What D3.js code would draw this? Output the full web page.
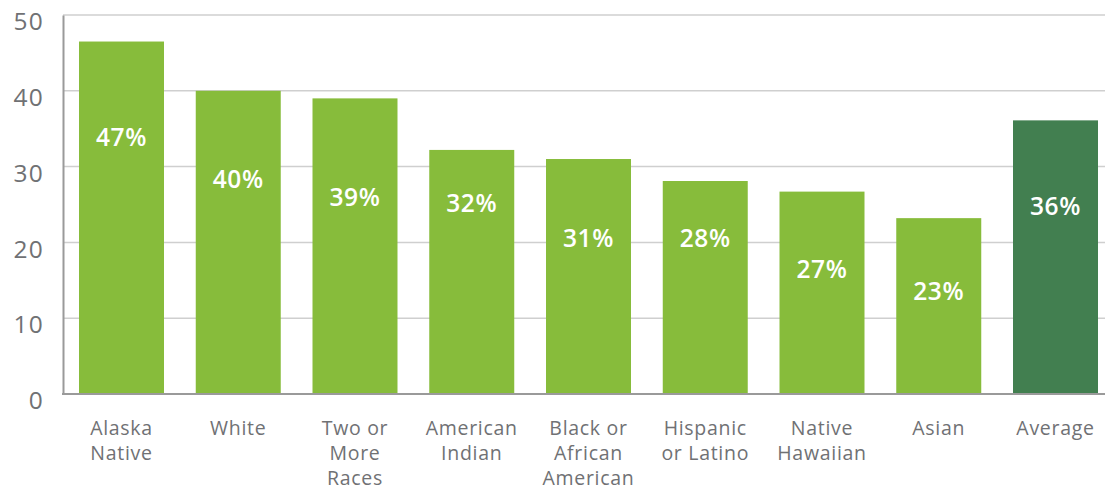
<!DOCTYPE html>
<html>
<head>
<meta charset="utf-8">
<script src="https://cdn.jsdelivr.net/npm/d3@7/dist/d3.min.js"></script>
<style>
  html, body { margin: 0; padding: 0; background: #fff; }
  svg { display: block; }
  text { font-family: "Open Sans", "Lato", sans-serif; }
</style>
</head>
<body>
<svg id="chart" width="1105" height="490"></svg>
<script>
// Share of each group, percent
const categories = [
  ["Alaska", "Native"],
  ["White"],
  ["Two or", "More", "Races"],
  ["American", "Indian"],
  ["Black or", "African", "American"],
  ["Hispanic", "or Latino"],
  ["Native", "Hawaiian"],
  ["Asian"],
  ["Average"]
];
const values = [46.5, 40, 39, 32.2, 31, 28.1, 26.7, 23.2, 36.1];
const highlight = [false, false, false, false, false, false, false, false, true];
const yTicks = [0, 10, 20, 30, 40, 50];

// Layout: where each value label's baseline sits below the bar top (px)
const labelDrop = [104, 97, 108, 62, 88, 66, 86, 82, 95];

const plotLeft = 63, plotTop = 15, plotBottom = 394, plotRight = 1105;

const svg = d3.select("#chart");

const y = d3.scaleLinear().domain([0, 50]).range([plotBottom, plotTop]);
const x = d3.scaleBand()
  .domain(d3.range(values.length))
  .range([79, 1098])
  .paddingInner(0.272)
  .paddingOuter(0);

// Horizontal gridlines
svg.append("g")
  .selectAll("line")
  .data(yTicks.filter(t => t > 0))
  .join("line")
  .attr("x1", plotLeft).attr("x2", plotRight)
  .attr("y1", d => y(d)).attr("y2", d => y(d))
  .attr("stroke", "#cfcfcf")
  .attr("stroke-width", 1.5);

// Bars
svg.append("g")
  .selectAll("rect")
  .data(values)
  .join("rect")
  .attr("x", (d, i) => x(i))
  .attr("width", x.bandwidth())
  .attr("y", d => y(d))
  .attr("height", d => y(0) - y(d))
  .attr("fill", (d, i) => highlight[i] ? "#427f50" : "#87bc3b");

// Value labels inside bars
svg.append("g")
  .selectAll("text")
  .data(values)
  .join("text")
  .attr("x", (d, i) => x(i) + x.bandwidth() / 2)
  .attr("y", (d, i) => y(d) + labelDrop[i])
  .attr("text-anchor", "middle")
  .attr("fill", "#fff")
  .attr("font-size", 24.5)
  .attr("font-weight", 600)
  .attr("letter-spacing", 0.6)
  .text(d => Math.round(d) + "%");

// Y axis
const yAxis = d3.axisLeft(y).tickValues(yTicks).tickSize(0).tickPadding(19);
const gy = svg.append("g").attr("transform", `translate(${plotLeft},0)`).call(yAxis);
gy.select(".domain").attr("stroke", "#9a9a9a").attr("stroke-width", 2);
gy.selectAll(".tick text")
  .attr("font-size", 24.5)
  .attr("fill", "#707174")
  .attr("letter-spacing", 1.2)
  .attr("dy", "0.6em")
  .attr("font-family", "'Open Sans', sans-serif");

// X baseline
svg.append("line")
  .attr("x1", plotLeft - 1).attr("x2", plotRight)
  .attr("y1", y(0)).attr("y2", y(0))
  .attr("stroke", "#9a9a9a")
  .attr("stroke-width", 2);

// Category labels
const cat = svg.append("g")
  .selectAll("text")
  .data(categories)
  .join("text")
  .attr("x", (d, i) => x(i) + x.bandwidth() / 2)
  .attr("y", 435)
  .attr("text-anchor", "middle")
  .attr("fill", "#707174")
  .attr("font-size", 19.5)
  .attr("letter-spacing", 0.7);
cat.selectAll("tspan")
  .data(d => d)
  .join("tspan")
  .attr("x", function() { return this.parentNode.getAttribute("x"); })
  .attr("dy", (d, i) => i === 0 ? 0 : 25)
  .text(d => d);
</script>
</body>
</html>
